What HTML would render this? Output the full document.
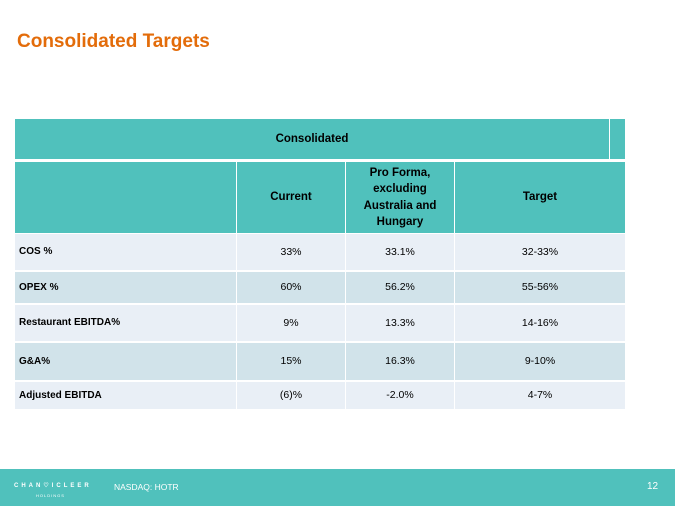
<!DOCTYPE html><html><head><style>
body{margin:0;width:675px;height:506px;position:relative;background:#fff;font-family:"Liberation Sans",Calibri,sans-serif;overflow:hidden}
.t{position:absolute;left:17px;top:31px;font-size:19px;font-weight:bold;color:#E36C0A}
.c{position:absolute;display:flex;align-items:center;justify-content:center;font-size:10.5px;color:#000;box-sizing:border-box;text-align:center;line-height:1.4}
.h{background:#50C1BC;font-weight:bold;font-size:11.5px}
.l{justify-content:flex-start;padding-left:4px;font-weight:bold;font-size:10px}
.a{background:#E9EFF6}.b{background:#D1E3EA}
.f{position:absolute;left:0;top:469px;width:675px;height:37px;background:#50C1BC;color:#fff;font-size:8.5px}
</style></head><body>
<div class="t">Consolidated Targets</div>
<div class="c h" style="left:15px;top:119px;width:594px;height:40px">Consolidated</div>
<div class="c h" style="left:610px;top:119px;width:15px;height:40px"></div>
<div class="c h" style="left:15px;top:162px;width:221px;height:71px"></div>
<div class="c h" style="left:237px;top:162px;width:108px;height:71px">Current</div>
<div class="c h" style="left:346px;top:162px;width:108px;height:71px">Pro Forma,<br>excluding<br>Australia and<br>Hungary</div>
<div class="c h" style="left:455px;top:162px;width:170px;height:71px">Target</div>
<div id="rows"></div>
<script>
var r=[["COS %","33%","33.1%","32-33%",234,37,"a"],["OPEX %","60%","56.2%","55-56%",272,32,"b"],["Restaurant EBITDA%","9%","13.3%","14-16%",305,37,"a"],["G&amp;A%","15%","16.3%","9-10%",343,38,"b"],["Adjusted EBITDA","(6)%","-2.0%","4-7%",382,28,"a"]],h="";
r.forEach(function(x){var y=x[4],H=x[5]-1,k=x[6];
h+='<div class="c l '+k+'" style="left:15px;top:'+y+'px;width:221px;height:'+H+'px">'+x[0]+'</div>';
h+='<div class="c '+k+'" style="left:237px;top:'+y+'px;width:108px;height:'+H+'px">'+x[1]+'</div>';
h+='<div class="c '+k+'" style="left:346px;top:'+y+'px;width:108px;height:'+H+'px">'+x[2]+'</div>';
h+='<div class="c '+k+'" style="left:455px;top:'+y+'px;width:170px;height:'+H+'px">'+x[3]+'</div>';});
document.getElementById('rows').innerHTML=h;
</script>
<div class="f">
<div style="position:absolute;left:14px;top:13px;letter-spacing:3px;font-size:6px;font-weight:bold">CHAN&#9825;ICLEER</div>
<div style="position:absolute;left:36px;top:24px;font-size:4px;letter-spacing:1px">HOLDINGS</div>
<div style="position:absolute;left:114px;top:13px">NASDAQ: HOTR</div>
<div style="position:absolute;left:647px;top:12px;font-size:10px">12</div>
</div>
</body></html>
